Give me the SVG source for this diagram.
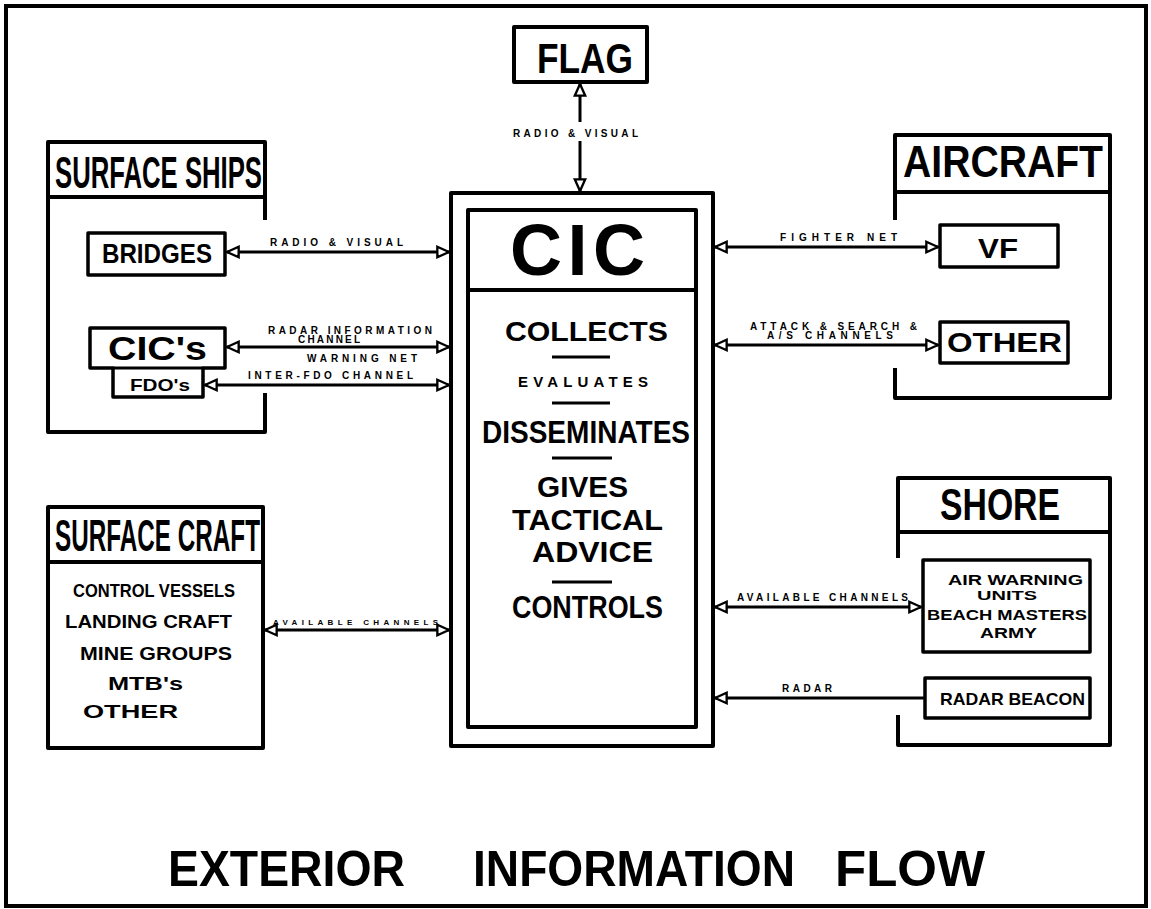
<svg xmlns="http://www.w3.org/2000/svg" width="1151" height="909" viewBox="0 0 1151 909">
<style>
text{font-family:"Liberation Sans",Arial,sans-serif;font-weight:bold;fill:#000}
.box{fill:none;stroke:#000;stroke-width:4;stroke-linejoin:round}
.ibox{fill:none;stroke:#000;stroke-width:3.5;stroke-linejoin:round}
.conn{fill:none;stroke:#000;stroke-width:3}
.sep{stroke:#000;stroke-width:3}
.lbl{font-size:10px}
</style>
<defs>
<marker id="ah" markerUnits="userSpaceOnUse" markerWidth="14" markerHeight="14" viewBox="-1 -1 12 12" refX="10" refY="5" orient="auto-start-reverse">
<path d="M0,0.5 L10,5 L0,9.5 z" fill="#fff" stroke="#000" stroke-width="2"/>
</marker>
</defs>
<rect x="0" y="0" width="1151" height="909" fill="#fff"/>
<rect x="6" y="6" width="1140" height="900" fill="none" stroke="#000" stroke-width="4"/>

<g id="connectors">
<path class="conn" d="M580,84 L580,122" marker-start="url(#ah)"/>
<path class="conn" d="M580,141 L580,191" marker-end="url(#ah)"/>
<text class="lbl" x="513" y="137" textLength="125" lengthAdjust="spacing">RADIO &amp; VISUAL</text>
<path class="conn" d="M227,252 L449,252" marker-start="url(#ah)" marker-end="url(#ah)"/>
<text class="lbl" x="270" y="246" textLength="133" lengthAdjust="spacing">RADIO &amp; VISUAL</text>
<path class="conn" d="M227,347 L449,347" marker-start="url(#ah)" marker-end="url(#ah)"/>
<text class="lbl" x="268" y="334" textLength="164" lengthAdjust="spacing">RADAR INFORMATION</text>
<text class="lbl" x="298" y="343" textLength="62" lengthAdjust="spacing">CHANNEL</text>
<text class="lbl" x="307" y="362" textLength="110" lengthAdjust="spacing">WARNING NET</text>
<path class="conn" d="M205,385 L449,385" marker-start="url(#ah)" marker-end="url(#ah)"/>
<text class="lbl" x="248" y="379" textLength="165" lengthAdjust="spacing">INTER-FDO CHANNEL</text>
<path class="conn" d="M265,630 L449,630" marker-start="url(#ah)" marker-end="url(#ah)"/>
<text class="lbl" x="273" y="625" textLength="165" lengthAdjust="spacing" style="font-size:8px">AVAILABLE CHANNELS</text>
<path class="conn" d="M715,247 L938,247" marker-start="url(#ah)" marker-end="url(#ah)"/>
<text class="lbl" x="780" y="241" textLength="117" lengthAdjust="spacing">FIGHTER NET</text>
<path class="conn" d="M715,345 L938,345" marker-start="url(#ah)" marker-end="url(#ah)"/>
<text class="lbl" x="750" y="330" textLength="167" lengthAdjust="spacing">ATTACK &amp; SEARCH &amp;</text>
<text class="lbl" x="767" y="339" textLength="126" lengthAdjust="spacing">A/S CHANNELS</text>
<path class="conn" d="M715,607 L921,607" marker-start="url(#ah)" marker-end="url(#ah)"/>
<text class="lbl" x="737" y="601" textLength="171" lengthAdjust="spacing">AVAILABLE CHANNELS</text>
<path class="conn" d="M715,698 L925,698" marker-start="url(#ah)"/>
<text class="lbl" x="782" y="692" textLength="50" lengthAdjust="spacing">RADAR</text>
</g>

<g id="flag">
<rect class="box" x="514" y="27" width="133" height="55"/>
<text x="537" y="73" font-size="43" textLength="96" lengthAdjust="spacingAndGlyphs">FLAG</text>
</g>

<g id="cic">
<rect class="box" x="451" y="193" width="262" height="553"/>
<rect class="box" x="468" y="210" width="228" height="517"/>
<line class="sep" x1="468" y1="290" x2="696" y2="290" style="stroke-width:4"/>
<text x="510" y="275" font-size="72" textLength="135" lengthAdjust="spacing">CIC</text>
<text x="505" y="341" font-size="28" textLength="163" lengthAdjust="spacingAndGlyphs">COLLECTS</text>
<line class="sep" x1="552" y1="357" x2="610" y2="357"/>
<text x="518" y="387" font-size="15" textLength="130" lengthAdjust="spacing">EVALUATES</text>
<line class="sep" x1="552" y1="403" x2="610" y2="403"/>
<text x="482" y="443" font-size="32" textLength="208" lengthAdjust="spacingAndGlyphs">DISSEMINATES</text>
<line class="sep" x1="552" y1="458" x2="612" y2="458"/>
<text x="537" y="497" font-size="29" textLength="91" lengthAdjust="spacingAndGlyphs">GIVES</text>
<text x="512" y="530" font-size="29" textLength="151" lengthAdjust="spacingAndGlyphs">TACTICAL</text>
<text x="532" y="562" font-size="29" textLength="121" lengthAdjust="spacingAndGlyphs">ADVICE</text>
<line class="sep" x1="552" y1="582" x2="612" y2="582"/>
<text x="512" y="618" font-size="32" textLength="151" lengthAdjust="spacingAndGlyphs">CONTROLS</text>
</g>

<g id="surface-ships">
<path class="box" d="M265,220 L265,142 L48,142 L48,432 L265,432 L265,393"/>
<line class="sep" x1="48" y1="197" x2="265" y2="197" style="stroke-width:4"/>
<text x="55" y="188" font-size="45" textLength="207" lengthAdjust="spacingAndGlyphs">SURFACE SHIPS</text>
</g>
<g id="bridges">
<rect class="ibox" x="88" y="233" width="137" height="42"/>
<text x="102" y="263" font-size="28" textLength="110" lengthAdjust="spacingAndGlyphs">BRIDGES</text>
</g>
<g id="cics">
<path class="ibox" d="M90,328 L225,328 L225,368 L203,368 L203,397 L113,397 L113,368 L90,368 Z"/>
<line class="sep" x1="113" y1="368" x2="203" y2="368"/>
<text x="108" y="360" font-size="33" textLength="99" lengthAdjust="spacingAndGlyphs">CIC's</text>
<text x="130" y="391" font-size="17" textLength="60" lengthAdjust="spacingAndGlyphs">FDO's</text>
</g>

<g id="surface-craft">
<rect class="box" x="48" y="507" width="215" height="241"/>
<line class="sep" x1="48" y1="562" x2="263" y2="562" style="stroke-width:4"/>
<text x="55" y="551" font-size="45" textLength="205" lengthAdjust="spacingAndGlyphs">SURFACE CRAFT</text>
<text x="73" y="597" font-size="18" textLength="162" lengthAdjust="spacingAndGlyphs">CONTROL VESSELS</text>
<text x="65" y="628" font-size="18" textLength="167" lengthAdjust="spacingAndGlyphs">LANDING CRAFT</text>
<text x="80" y="660" font-size="18" textLength="152" lengthAdjust="spacingAndGlyphs">MINE GROUPS</text>
<text x="108" y="690" font-size="18" textLength="75" lengthAdjust="spacingAndGlyphs">MTB's</text>
<text x="83" y="718" font-size="18" textLength="95" lengthAdjust="spacingAndGlyphs">OTHER</text>
</g>

<g id="aircraft">
<path class="box" d="M895,220 L895,135 L1110,135 L1110,398 L895,398 L895,368"/>
<line class="sep" x1="895" y1="192" x2="1110" y2="192" style="stroke-width:4"/>
<text x="903" y="177" font-size="44" textLength="200" lengthAdjust="spacingAndGlyphs">AIRCRAFT</text>
</g>
<g id="vf">
<rect class="ibox" x="940" y="225" width="118" height="42"/>
<text x="978" y="258" font-size="28" textLength="40" lengthAdjust="spacingAndGlyphs">VF</text>
</g>
<g id="other-air">
<rect class="ibox" x="940" y="322" width="128" height="41"/>
<text x="947" y="352" font-size="27" textLength="115" lengthAdjust="spacingAndGlyphs">OTHER</text>
</g>

<g id="shore">
<path class="box" d="M898,558 L898,478 L1110,478 L1110,745 L898,745 L898,715"/>
<line class="sep" x1="898" y1="532" x2="1110" y2="532" style="stroke-width:4"/>
<text x="940" y="520" font-size="45" textLength="120" lengthAdjust="spacingAndGlyphs">SHORE</text>
</g>
<g id="air-warning">
<rect class="ibox" x="923" y="560" width="167" height="92"/>
<text x="948" y="585" font-size="15" textLength="135" lengthAdjust="spacingAndGlyphs">AIR WARNING</text>
<text x="977" y="600" font-size="13" textLength="60" lengthAdjust="spacingAndGlyphs">UNITS</text>
<text x="927" y="620" font-size="15" textLength="160" lengthAdjust="spacingAndGlyphs">BEACH MASTERS</text>
<text x="980" y="638" font-size="15" textLength="57" lengthAdjust="spacingAndGlyphs">ARMY</text>
</g>
<g id="radar-beacon">
<rect class="ibox" x="925" y="678" width="165" height="40"/>
<text x="940" y="705" font-size="17" textLength="145" lengthAdjust="spacingAndGlyphs">RADAR BEACON</text>
</g>

<g id="title">
<text x="168" y="886" font-size="50" textLength="237" lengthAdjust="spacingAndGlyphs">EXTERIOR</text>
<text x="473" y="886" font-size="50" textLength="322" lengthAdjust="spacingAndGlyphs">INFORMATION</text>
<text x="835" y="886" font-size="50" textLength="150" lengthAdjust="spacingAndGlyphs">FLOW</text>
</g>
</svg>
